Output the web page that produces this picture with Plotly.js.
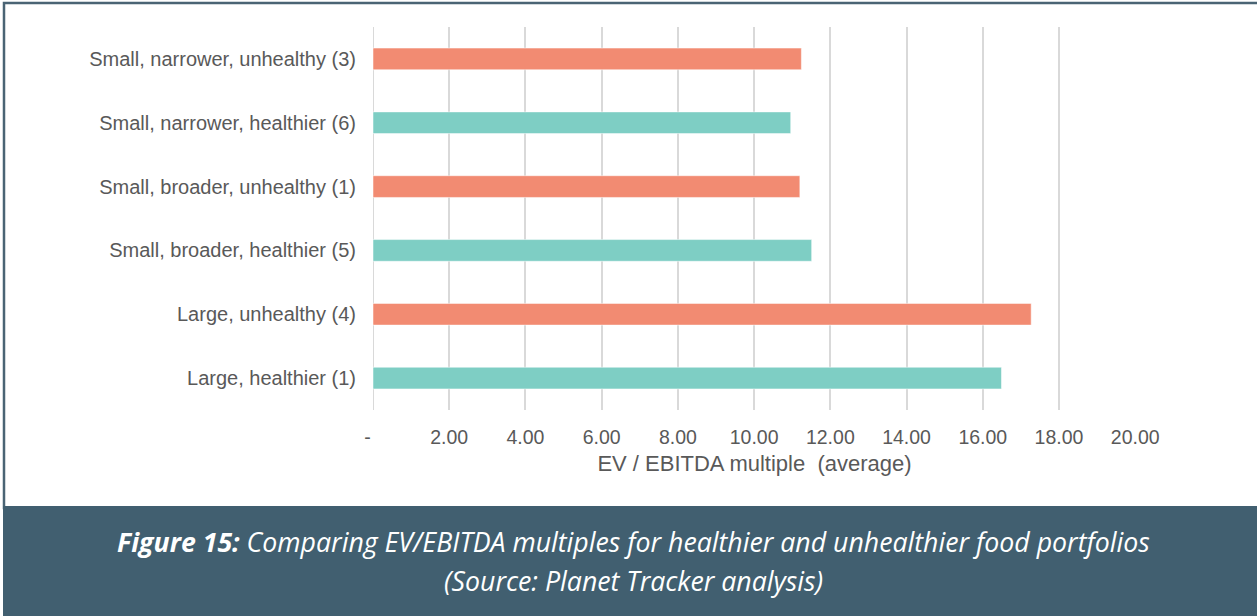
<!DOCTYPE html>
<html>
<head>
<meta charset="utf-8">
<script src="https://cdn.plot.ly/plotly-3.0.1.min.js"></script>
<style>html,body{margin:0;padding:0;background:#fff;}#chart{width:1257px;height:616px;}</style>
</head>
<body>
<div id="chart"></div>
<script>
// ---- data ----
const categories = [
  "Small, narrower, unhealthy (3)",
  "Small, narrower, healthier (6)",
  "Small, broader, unhealthy (1)",
  "Small, broader, healthier (5)",
  "Large, unhealthy (4)",
  "Large, healthier (1)"
];
const evEbitda = [11.24, 10.96, 11.20, 11.51, 17.27, 16.49];
const portfolioType = ["unhealthy", "healthier", "unhealthy", "healthier", "unhealthy", "healthier"];
const tickValues = [0, 2, 4, 6, 8, 10, 12, 14, 16, 18, 20];
const tickLabels = ["-\u00a0\u00a0", "2.00", "4.00", "6.00", "8.00", "10.00", "12.00", "14.00", "16.00", "18.00", "20.00"];
const xTitle = "EV / EBITDA multiple&nbsp;&nbsp;(average)";
const captionLine1 = "<b>Figure 15:</b> Comparing EV/EBITDA multiples for healthier and unhealthier food portfolios";
const captionLine2 = "(Source: Planet Tracker analysis)";

// ---- styles ----
const typeColor = { unhealthy: "#F28B72", healthier: "#7ECEC4" };
const W = 1257, H = 616;
const L = 373, R = 1136, T = 27, B = 410;
const px = x => (x - L) / (R - L);
const py = y => (B - y) / (B - T);

const trace = {
  type: "bar",
  orientation: "h",
  y: categories,
  x: evEbitda,
  width: 0.34,
  marker: {
    color: portfolioType.map(t => typeColor[t]),
    line: { color: "rgba(255,255,255,0.5)", width: 1 }
  },
  hoverinfo: "x+y"
};

const layout = {
  width: W, height: H,
  margin: { l: L, r: W - R, t: T, b: H - B, pad: 0 },
  paper_bgcolor: "#ffffff",
  plot_bgcolor: "#ffffff",
  showlegend: false,
  font: { family: "Liberation Sans, Arial, sans-serif", color: "#595959", size: 20 },
  xaxis: {
    range: [0, 20.02],
    tickvals: tickValues,
    ticktext: tickLabels,
    showgrid: true,
    gridcolor: "#d9d9d9",
    gridwidth: 2,
    zeroline: false,
    showline: false,
    ticks: "outside",
    ticklen: 10,
    tickcolor: "rgba(0,0,0,0)",
    tickfont: { size: 19.5, color: "#595959" },
    title: { text: xTitle, font: { size: 22, color: "#595959" }, standoff: 8 },
    automargin: false,
    fixedrange: true
  },
  yaxis: {
    type: "category",
    range: [5.5, -0.5],
    showgrid: false,
    zeroline: false,
    showline: false,
    ticks: "outside",
    ticklen: 12,
    tickcolor: "rgba(0,0,0,0)",
    tickfont: { size: 20, color: "#595959" },
    automargin: false,
    fixedrange: true
  },
  shapes: [
    // zero gridline
    { type: "line", xref: "x", yref: "paper", x0: 0, x1: 0, y0: 0, y1: 1,
      line: { color: "#d9d9d9", width: 2 }, layer: "below" },
    // outer frame
    { type: "rect", xref: "paper", yref: "paper",
      x0: px(4), x1: px(1262), y0: py(3), y1: py(508),
      line: { color: "#4A6474", width: 2.5 }, fillcolor: "rgba(0,0,0,0)", layer: "below" },
    // caption band
    { type: "rect", xref: "paper", yref: "paper",
      x0: px(3), x1: px(1262), y0: py(506), y1: py(620),
      line: { width: 0 }, fillcolor: "#415F70", layer: "above" }
  ],
  annotations: [
    { xref: "paper", yref: "paper", x: px(633.5), y: py(541), xanchor: "center", yanchor: "middle",
      showarrow: false, text: "<i>" + captionLine1 + "</i>",
      font: { family: "Open Sans, sans-serif", size: 26.7, color: "#ffffff" } },
    { xref: "paper", yref: "paper", x: px(633.5), y: py(580), xanchor: "center", yanchor: "middle",
      showarrow: false, text: "<i>" + captionLine2 + "</i>",
      font: { family: "Open Sans, sans-serif", size: 26.7, color: "#ffffff" } }
  ]
};

Plotly.newPlot("chart", [trace], layout, { displayModeBar: false, staticPlot: true });
</script>
</body>
</html>
